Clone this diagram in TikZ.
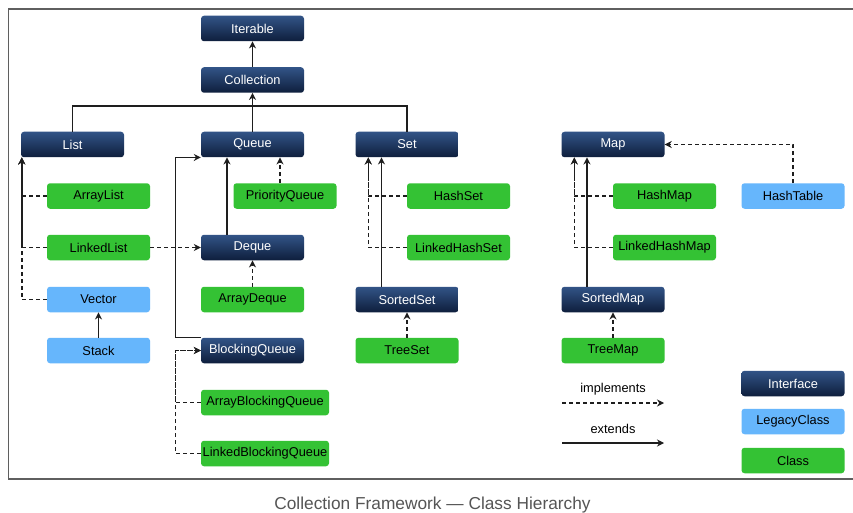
\documentclass[tikz,border=0pt]{standalone}
\usepackage{fontspec}
\setmainfont{Liberation Sans}
\usetikzlibrary{arrows.meta}
\definecolor{navytop}{RGB}{50,84,135}
\definecolor{navybot}{RGB}{14,30,60}
\definecolor{legacyblue}{RGB}{102,182,252}
\definecolor{classgreen}{RGB}{52,194,52}
\definecolor{linecol}{RGB}{30,30,30}
\definecolor{framecol}{RGB}{95,95,95}
\definecolor{captioncol}{RGB}{85,85,85}
\tikzset{
  box/.style={rectangle, rounded corners=3pt, minimum width=103pt, minimum height=25.5pt,
    inner sep=0pt, font=\fontsize{12.8}{14}\selectfont},
  intf/.style={box, top color=navytop, bottom color=navybot, text=white},
  legacy/.style={box, fill=legacyblue, text=black},
  cls/.style={box, fill=classgreen, text=black},
  wide/.style={minimum width=128pt},
  ext/.style={draw=linecol, line width=1.5pt, -{Stealth[length=7pt,width=7pt]}},
  plain/.style={draw=linecol, line width=1.5pt},
  impl/.style={draw=linecol, line width=1.5pt, dash pattern=on 4pt off 3pt, -{Stealth[length=7pt,width=7pt]}},
  lbl/.style={font=\fontsize{12.8}{14}\selectfont, text=black, inner sep=0pt}
}
\begin{document}
\begin{tikzpicture}[x=1pt,y=-1pt]
\useasboundingbox (0,0) rectangle (853,513);
\fill[white] (0,0) rectangle (853,513);
% frame
\draw[framecol, line width=1.2pt] (853,9) -- (8.5,9) -- (8.5,479) -- (853,479);

% nodes
\node[intf] (Iterable) at (252.5,28.5) {Iterable};
\node[intf] (Collection) at (252.5,80) {Collection};
\node[intf] (List) at (72.5,144.5) {List};
\node[intf] (Queue) at (252.5,144.5) {Queue};
\node[intf] (Set) at (407,144.5) {Set};
\node[intf] (Map) at (613,144.5) {Map};

\node[cls] (ArrayList) at (98.5,196) {ArrayList};
\node[cls] (PriorityQueue) at (285,196) {PriorityQueue};
\node[cls] (HashSet) at (458.5,196) {HashSet};
\node[cls] (HashMap) at (664.5,196) {HashMap};
\node[legacy] (HashTable) at (793,196) {HashTable};

\node[cls] (LinkedList) at (98.5,247.5) {LinkedList};
\node[intf] (Deque) at (252.5,247.5) {Deque};
\node[cls] (LinkedHashSet) at (458.5,247.5) {LinkedHashSet};
\node[cls] (LinkedHashMap) at (664.5,247.5) {LinkedHashMap};

\node[legacy] (Vector) at (98.5,299.5) {Vector};
\node[cls] (ArrayDeque) at (252.5,299.5) {ArrayDeque};
\node[intf] (SortedSet) at (407,299.5) {SortedSet};
\node[intf] (SortedMap) at (613,299.5) {SortedMap};

\node[legacy] (Stack) at (98.5,350.5) {Stack};
\node[intf] (BlockingQueue) at (252.5,350.5) {BlockingQueue};
\node[cls] (TreeSet) at (407,350.5) {TreeSet};
\node[cls] (TreeMap) at (613,350.5) {TreeMap};

\node[cls, wide] (ArrayBlockingQueue) at (265,402.5) {ArrayBlockingQueue};
\node[cls, wide] (LinkedBlockingQueue) at (265,453.5) {LinkedBlockingQueue};

% legend
\node[intf] (LegInterface) at (793,383.5) {Interface};
\node[legacy] (LegLegacy) at (793,421.5) {LegacyClass};
\node[cls] (LegClass) at (793,460.5) {Class};
\node[lbl] (implLbl) at (613,389) {implements};
\node[lbl] (extLbl) at (613,429) {extends};
\coordinate (implA) at (562,403);
\coordinate (implB) at (664,403);
\coordinate (extA) at (562,443);
\coordinate (extB) at (664,443);
\draw[impl] (implA) -- (implB);
\draw[ext] (extA) -- (extB);

% caption
\node[font=\fontsize{17.3}{19}\selectfont, text=captioncol, inner sep=0pt] (caption) at (432.5,505) {Collection Framework — Class Hierarchy};

% connectors
\coordinate (hub) at (252.5,106);
\draw[ext] (Collection) -- (Iterable);
\draw[ext] (Queue) -- (Collection);
\draw[plain] (List.north) |- (hub) -| (Set.north);

\draw[impl] (ArrayList.west) -| ([xshift=1pt]List.south west);
\draw[impl] (LinkedList.west) -| ([xshift=1pt]List.south west);
\draw[impl] (Vector.west) -| ([xshift=1pt]List.south west);
\draw[impl] (LinkedList) -- (Deque);
\draw[ext] (Stack) -- (Vector);

\draw[impl] ([xshift=-5pt]PriorityQueue.north) -- ([xshift=-5pt]PriorityQueue.north |- Queue.south);
\draw[ext] ([xshift=-25.5pt]Deque.north) -- ([xshift=-25.5pt]Queue.south);
\draw[impl] (ArrayDeque) -- (Deque);
\draw[ext] (BlockingQueue.north west) -- ++(-25.5,0) |- (Queue.south west);
\draw[impl] (ArrayBlockingQueue.west) -- ++(-25.5,0) |- (BlockingQueue.west);
\draw[impl] (LinkedBlockingQueue.west) -- ++(-25.5,0) |- (BlockingQueue.west);

\draw[impl] (HashSet.west) -| ([xshift=13pt]Set.south west);
\draw[impl] (LinkedHashSet.west) -| ([xshift=13pt]Set.south west);
\draw[ext] ([xshift=-25.5pt]SortedSet.north) -- ([xshift=-25.5pt]Set.south);
\draw[impl] (TreeSet) -- (SortedSet);

\draw[impl] (HashMap.west) -| ([xshift=13pt]Map.south west);
\draw[impl] (LinkedHashMap.west) -| ([xshift=13pt]Map.south west);
\draw[ext] ([xshift=-26pt]SortedMap.north) -- ([xshift=-26pt]Map.south);
\draw[impl] (TreeMap) -- (SortedMap);
\draw[impl] (HashTable.north) |- (Map.east);
\end{tikzpicture}
\end{document}
